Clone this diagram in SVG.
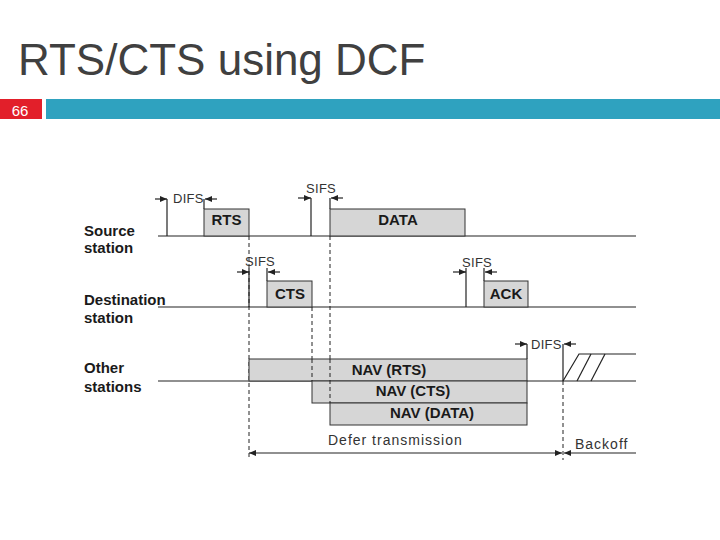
<svg xmlns="http://www.w3.org/2000/svg" width="720" height="540" viewBox="0 0 720 540">
<style>
.ln{stroke:#222;stroke-width:1.2;fill:none}
.ds{stroke:#222;stroke-width:1;fill:none;stroke-dasharray:4 3}
.ar{stroke:#222;stroke-width:1.2;fill:none;marker-end:url(#ah)}
.box{fill:#d6d6d6;stroke:#333;stroke-width:1}
.lbl{font-family:"Liberation Sans",Arial,sans-serif;font-size:15px;font-weight:bold;fill:#1a1a1a}
.bx{font-family:"Liberation Sans",Arial,sans-serif;font-size:15px;font-weight:bold;fill:#1a1a1a;text-anchor:middle}
.sm{font-family:"Liberation Sans",Arial,sans-serif;font-size:13px;fill:#333;letter-spacing:0.3px}
.md{font-family:"Liberation Sans",Arial,sans-serif;font-size:14px;fill:#333;letter-spacing:1px}
</style>
<defs>
<marker id="ah" markerWidth="7" markerHeight="6" refX="7" refY="3" orient="auto-start-reverse" markerUnits="userSpaceOnUse">
<path d="M0,0 L7,3 L0,6 z" fill="#222"/>
</marker>
</defs>
<rect width="720" height="540" fill="#ffffff"/>

<g id="title">
<text x="18" y="75" font-family="'Liberation Sans',Arial,sans-serif" font-size="44" fill="#404040">RTS/CTS using DCF</text>
</g>
<g id="header">
<rect x="0" y="99" width="42" height="20" fill="#e21f2a"/>
<rect x="46" y="99" width="674" height="20" fill="#2fa2bf"/>
<text x="20" y="116" font-family="'Liberation Sans',Arial,sans-serif" font-size="15" fill="#ffffff" text-anchor="middle">66</text>
</g>

<g id="station-labels">
<text class="lbl" x="84" y="236">Source</text>
<text class="lbl" x="84" y="253">station</text>
<text class="lbl" x="84" y="305">Destination</text>
<text class="lbl" x="84" y="323">station</text>
<text class="lbl" x="84" y="373">Other</text>
<text class="lbl" x="84" y="392">stations</text>
</g>

<g id="connectors">
<!-- timelines -->
<line class="ln" x1="158" y1="236" x2="636" y2="236"/>
<line class="ln" x1="158" y1="307" x2="636" y2="307"/>
<line class="ln" x1="158" y1="381" x2="636" y2="381"/>
<!-- dashed guides -->
<line class="ds" x1="249" y1="236" x2="249" y2="460"/>
<line class="ds" x1="312" y1="307" x2="312" y2="381"/>
<line class="ds" x1="330" y1="236" x2="330" y2="403"/>
<line class="ds" x1="563" y1="381" x2="563" y2="460"/>
<!-- source DIFS -->
<line class="ln" x1="167" y1="199" x2="167" y2="236"/>
<line class="ar" x1="155" y1="199" x2="167" y2="199"/>
<line class="ln" x1="204" y1="199" x2="204" y2="209"/>
<line class="ar" x1="217" y1="199" x2="205" y2="199"/>
<!-- source SIFS -->
<line class="ln" x1="311" y1="198" x2="311" y2="236"/>
<line class="ar" x1="298" y1="198" x2="311" y2="198"/>
<line class="ln" x1="330" y1="198" x2="330" y2="209"/>
<line class="ar" x1="343" y1="198" x2="331" y2="198"/>
<!-- dest SIFS 1 -->
<line class="ln" x1="249" y1="268" x2="249" y2="307"/>
<line class="ar" x1="237" y1="272" x2="249" y2="272"/>
<line class="ln" x1="267" y1="268" x2="267" y2="281"/>
<line class="ar" x1="280" y1="272" x2="268" y2="272"/>
<!-- dest SIFS 2 -->
<line class="ln" x1="466" y1="268" x2="466" y2="307"/>
<line class="ar" x1="453" y1="272" x2="466" y2="272"/>
<line class="ln" x1="484" y1="268" x2="484" y2="281"/>
<line class="ar" x1="497" y1="272" x2="485" y2="272"/>
<!-- other DIFS -->
<line class="ln" x1="527" y1="344" x2="527" y2="359"/>
<line class="ar" x1="515" y1="344" x2="527" y2="344"/>
<line class="ln" x1="563" y1="344" x2="563" y2="381"/>
<line class="ar" x1="576" y1="344" x2="564" y2="344"/>
<!-- defer / backoff -->
<line class="ln" x1="249" y1="453" x2="562" y2="453" marker-start="url(#ah)" marker-end="url(#ah)"/>
<line class="ar" x1="636" y1="453" x2="564" y2="453"/>
</g>

<g id="rts">
<rect class="box" x="204" y="209" width="45" height="27"/>
<text class="bx" x="226.5" y="225">RTS</text>
</g>
<g id="data">
<rect class="box" x="330" y="209" width="135" height="27"/>
<text class="bx" x="398" y="225">DATA</text>
</g>
<g id="cts">
<rect class="box" x="267" y="281" width="45" height="26"/>
<text class="bx" x="290" y="299">CTS</text>
</g>
<g id="ack">
<rect class="box" x="484" y="281" width="44" height="26"/>
<text class="bx" x="506" y="299">ACK</text>
</g>
<g id="nav-rts">
<rect class="box" x="249" y="359" width="278" height="22"/>
<text class="bx" x="389" y="375">NAV (RTS)</text>
</g>
<g id="nav-cts">
<rect class="box" x="312" y="381" width="215" height="22"/>
<text class="bx" x="413" y="396">NAV (CTS)</text>
</g>
<g id="nav-data">
<rect class="box" x="330" y="403" width="197" height="22"/>
<text class="bx" x="432" y="418">NAV (DATA)</text>
</g>
<g id="nav-guides">
<line class="ds" x1="312" y1="359" x2="312" y2="381"/>
<line class="ds" x1="330" y1="359" x2="330" y2="403"/>
</g>
<g id="backoff">
<polyline class="ln" points="563,381 579,354 636,354"/>
<line class="ln" x1="577" y1="381" x2="591" y2="354"/>
<line class="ln" x1="591" y1="381" x2="605" y2="354"/>
</g>

<g id="timing-labels">
<text class="sm" x="173" y="203">DIFS</text>
<text class="sm" x="306" y="193">SIFS</text>
<text class="sm" x="245" y="266">SIFS</text>
<text class="sm" x="462" y="267">SIFS</text>
<text class="sm" x="531" y="349">DIFS</text>
<text class="md" x="328" y="445">Defer transmission</text>
<text class="md" x="575" y="449">Backoff</text>
</g>
</svg>
